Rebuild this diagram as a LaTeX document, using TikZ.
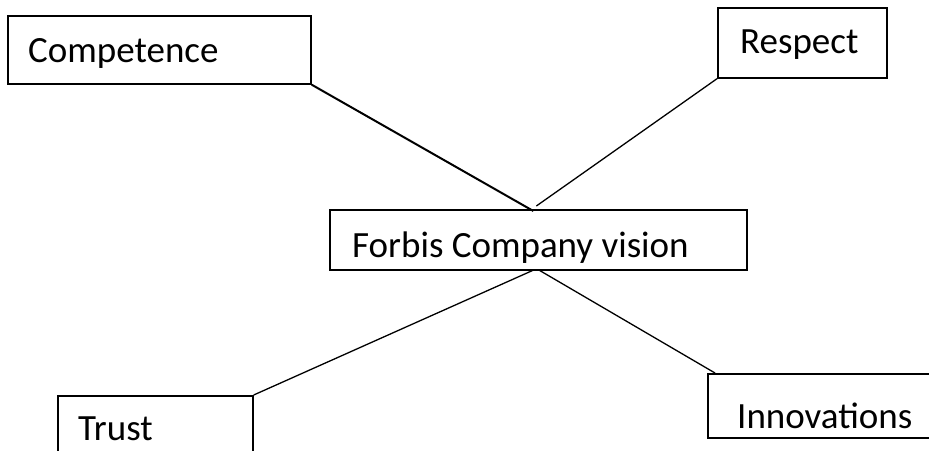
\documentclass[tikz,border=0pt]{standalone}
\usepackage{fontspec}
\setmainfont{Carlito}
\begin{document}
\begin{tikzpicture}[x=1pt,y=-1pt,
  box/.style={draw=black, line width=1.7pt, rectangle, inner sep=0pt, anchor=north west},
  label text/.style={anchor=base west, inner sep=0pt, font=\fontsize{37}{40}\selectfont},
  link/.style={draw=black, line width=1.3pt}]
\useasboundingbox (0,0) rectangle (929,450);
\clip (0,0) rectangle (929,450);

% boxes
\node[box, minimum width=303pt, minimum height=68pt] (comp) at (7,15) {};
\node[box, minimum width=169pt, minimum height=70pt] (resp) at (717,7) {};
\node[box, minimum width=417pt, minimum height=60pt] (vision) at (329,209) {};
\node[box, minimum width=195pt, minimum height=90pt] (trust) at (57,395) {};
\node[box, minimum width=240pt, minimum height=64pt] (innov) at (707,373) {};

% labels
\node[label text] (tcomp) at (28,62) {Competence};
\node[label text] (tresp) at (740,53) {Respect};
\begin{scope}
  \clip (vision.north west) rectangle (vision.south east);
  \node[label text] (tvision) at (352,257) {Forbis Company vision};
\end{scope}
\node[label text] (ttrust) at (78,440) {Trust};
\node[label text] (tinnov) at (737,428) {Innovations};

% connectors
\draw[link, line width=2pt] (comp.south east) -- ([xshift=-5pt,yshift=-2pt]vision.north);
\draw[link] (resp.south west) -- ([xshift=-2pt,yshift=3pt]vision.north);
\draw[link] ([xshift=-4pt,yshift=1pt]vision.south) -- (trust.north east);
\draw[link] ([xshift=0pt,yshift=1pt]vision.south) -- ([xshift=8pt]innov.north west);
\end{tikzpicture}
\end{document}
